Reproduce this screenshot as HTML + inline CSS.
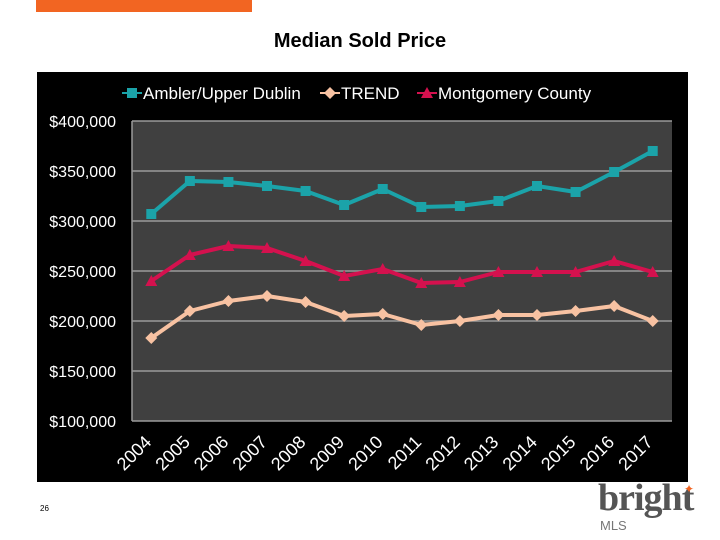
<!DOCTYPE html>
<html><head><meta charset="utf-8"><style>
body{margin:0;width:720px;height:540px;background:#fff;overflow:hidden;font-family:"Liberation Sans",sans-serif;position:relative}
</style></head><body>
<div style="position:absolute;left:36px;top:0;width:216px;height:12px;background:#f26522"></div>
<div style="position:absolute;left:0;width:720px;top:30px;text-align:center;font-size:20px;font-weight:bold;color:#000">Median Sold Price</div>
<svg id="c" style="position:absolute;left:0;top:0" width="720" height="540"></svg>
<div style="position:absolute;left:40px;top:504px;font-size:8px">26</div>
<div style="position:absolute;left:598px;top:478px;width:100px;height:56px">
<div style="font-family:'Liberation Serif',serif;font-size:38px;color:#555;line-height:40px;letter-spacing:-1px;font-weight:bold">bright</div>
<div style="position:absolute;left:86px;top:4px;color:#f26522;font-size:12px">✦</div>
<div style="font-size:13px;color:#777;margin-left:2px">MLS</div>
</div>
<script>
const categories=["2004","2005","2006","2007","2008","2009","2010","2011","2012","2013","2014","2015","2016","2017"];
const amblerValues=[307000,340000,339000,335000,330000,316000,332000,314000,315000,320000,335000,329000,349000,370000];
const trendValues=[183000,210000,220000,225000,219000,205000,207000,196000,200000,206000,206000,210000,215000,200000];
const montgomeryValues=[240000,266000,275000,273000,260000,245000,252000,238000,239000,249000,249000,249000,260000,249000];
const yTicks=[100000,150000,200000,250000,300000,350000,400000];
const seriesNames=["Ambler/Upper Dublin","TREND","Montgomery County"];
const svg=document.getElementById('c'),NS='http://www.w3.org/2000/svg';
function mk(t,a,p){const e=document.createElementNS(NS,t);for(const k in a)e.setAttribute(k,a[k]);(p||svg).appendChild(e);return e;}
const L=132,R=672,T=121,B=421,yMin=100000,yMax=400000;
const x=i=>L+(i+0.5)*(R-L)/categories.length;
const y=v=>B-(v-yMin)/(yMax-yMin)*(B-T);
const bg=mk('rect',{x:37,y:72,width:651,height:410,fill:'#000'});


const pa=mk('rect',{x:L,y:T,width:R-L,height:B-T,fill:'#404040'});


yTicks.forEach(v=>{
 const g=mk('line',{x1:L,x2:R,y1:y(v),y2:y(v),stroke:'#9a9a9a','stroke-width':1.5});
 
 
 const t=mk('text',{x:116,y:y(v)+6,'text-anchor':'end',fill:'#fff','font-size':16});
 t.textContent='$'+v.toLocaleString('en-US');
 
 
});
mk('line',{x1:L,x2:L,y1:T,y2:B,stroke:'#9a9a9a','stroke-width':1.5});
categories.forEach((c,i)=>{
 const ax=x(i)-9,ay=B+12;
 const t=mk('text',{x:ax,y:ay,'text-anchor':'end',fill:'#fff','font-size':18,transform:`rotate(-45 ${ax} ${ay})`,dy:'0.8em'});
 t.textContent=c;
 
 
});
function marker(type,cx,cy,col,p){
 if(type==='sq')return mk('rect',{x:cx-5,y:cy-5,width:10,height:10,fill:col},p);
 if(type==='di')return mk('polygon',{points:`${cx},${cy-6} ${cx+6},${cy} ${cx},${cy+6} ${cx-6},${cy}`,fill:col},p);
 return mk('polygon',{points:`${cx},${cy-6} ${cx+6},${cy+5} ${cx-6},${cy+5}`,fill:col},p);
}
const series=[[amblerValues,'#1ba3a9','sq'],[trendValues,'#f8c2a2','di'],[montgomeryValues,'#d4114e','tr']];
series.forEach(([vals,col,m],si)=>{
 const g=mk('g',{});
 
 
 mk('polyline',{points:vals.map((v,i)=>x(i)+','+y(v)).join(' '),fill:'none',stroke:col,'stroke-width':4,'stroke-linejoin':'round'},g);
 vals.forEach((v,i)=>{const p=marker(m,x(i),y(v),col,g);
  
  });
});
const lx=[122,320,417];
series.forEach(([v,col,m],si)=>{
 const g=mk('g',{});
 
 
 mk('line',{x1:lx[si],x2:lx[si]+20,y1:93,y2:93,stroke:col,'stroke-width':2},g);
 marker(m,lx[si]+10,93,col,g);
 const t=mk('text',{x:lx[si]+21,y:99,fill:'#fff','font-size':17},g);
 t.textContent=seriesNames[si];
});
</script>
</body></html>
